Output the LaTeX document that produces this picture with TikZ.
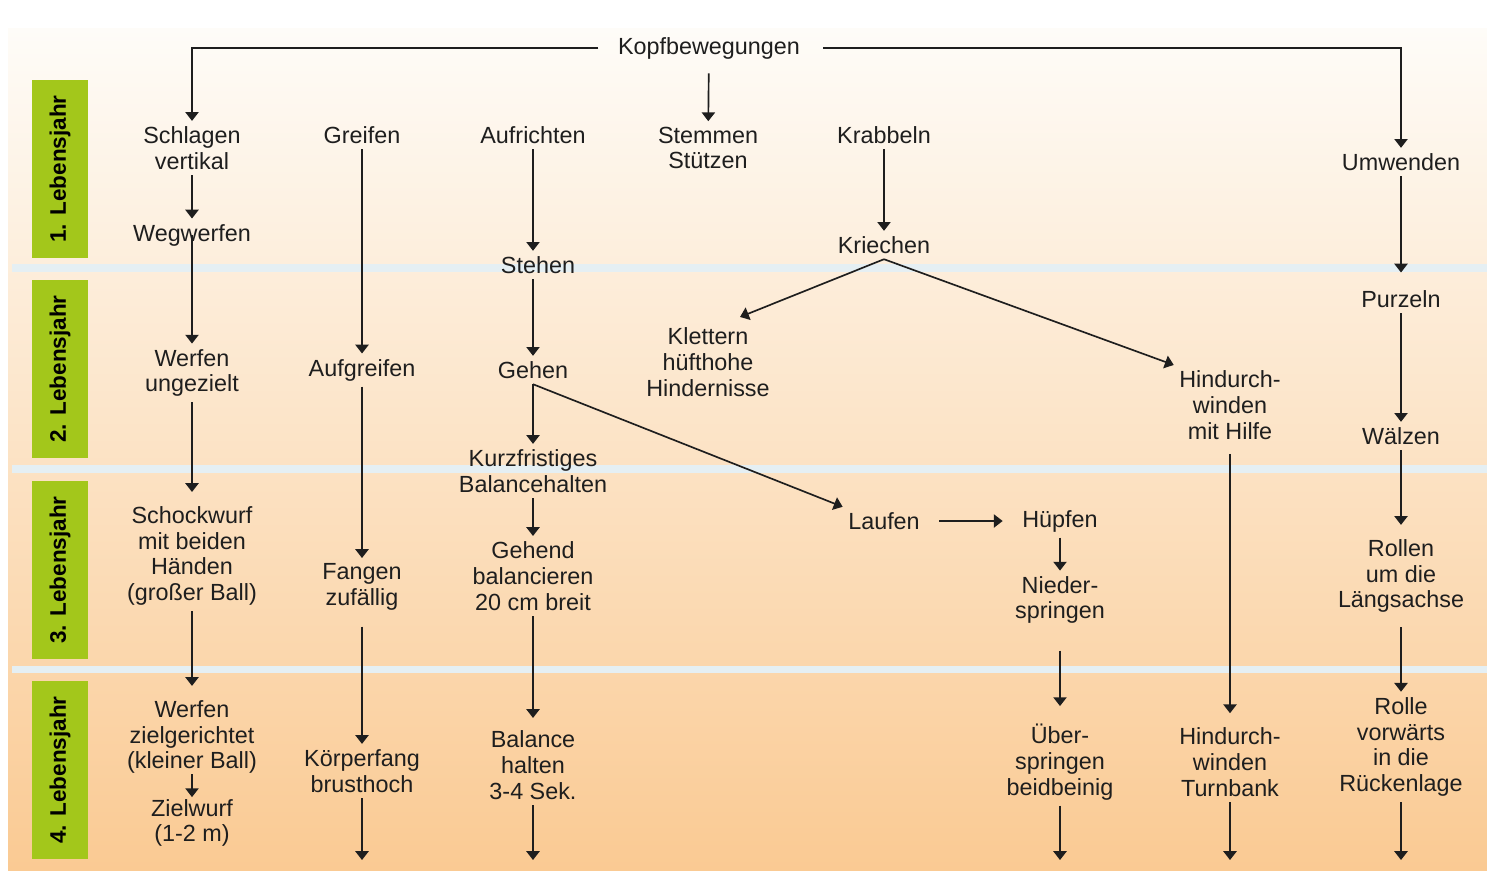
\documentclass[tikz,border=0pt]{standalone}
\usepackage{fontspec}
\setmainfont{Liberation Sans}
\usetikzlibrary{arrows.meta,calc}
\definecolor{yeargreen}{HTML}{A3C71B}
\definecolor{bgtop}{HTML}{FEFCF8}
\definecolor{bgmid}{HTML}{FDD9B2}
\definecolor{bgbot}{HTML}{FACA93}
\definecolor{sepline}{HTML}{E5EFF3}
\definecolor{txt}{HTML}{1E1E1E}

\begin{document}
\begin{tikzpicture}[x=0.02cm, y=-0.02cm,
	skill/.style={align=center, inner sep=3pt, text=txt, font=\fontsize{13.3}{14.7}\selectfont},
	yearlabel/.style={rotate=90, text=black, font=\fontsize{12.8}{14}\selectfont\bfseries},
	arr/.style={-{Triangle[length=5pt,width=7.5pt]}, line width=0.95pt, draw=txt}]
	\useasboundingbox (0,0) rectangle (1487,870);
	% background
	\fill[white] (0,0) rectangle (1487,870);
	\shade[top color=bgtop, middle color=bgmid, bottom color=bgbot] (8,28) rectangle (1487,870);
	% year separators
	\foreach \y in {268,469,669}
		\draw[sepline, line width=4pt] (12,\y) -- (1487,\y);
	% year labels
	\foreach \i/\y in {1/80,2/280,3/481,4/681} {
		\fill[yeargreen] (32,\y) rectangle (88,\y+178);
		\node[yearlabel] (year\i) at (60,\y+89) {\i. Lebensjahr};
	}

	% top
	\node[skill] (kopf) at (709,48) {Kopfbewegungen};

	% column 1: Schlagen / Werfen
	\node[skill] (schlagen) at (192,148) {Schlagen\\vertikal};
	\node[skill] (weg) at (192,235) {Wegwerfen};
	\node[skill] (werfenu) at (192,373) {Werfen\\ungezielt};
	\node[skill] (schock) at (192,556) {Schockwurf\\mit beiden\\Händen\\(großer Ball)};
	\node[skill] (werfenz) at (192,737) {Werfen\\zielgerichtet\\(kleiner Ball)};
	\node[skill] (zielwurf) at (192,823) {Zielwurf\\(1-2 m)};

	% column 2: Greifen
	\node[skill] (greifen) at (362,135) {Greifen};
	\node[skill] (aufgreifen) at (362,370) {Aufgreifen};
	\node[skill] (fangen) at (362,587) {Fangen\\zufällig};
	\node[skill] (koerper) at (362,771) {Körperfang\\brusthoch};
	\coordinate (end2) at (362,860);

	% column 3: Aufrichten
	\node[skill] (aufrichten) at (533,135) {Aufrichten};
	\node[skill] (stehen) at (538,265) {Stehen};
	\node[skill] (gehen) at (533,370) {Gehen};
	\node[skill] (kurz) at (533,471) {Kurzfristiges\\Balancehalten};
	\node[skill] (gehend) at (533,576) {Gehend\\balancieren\\20 cm breit};
	\node[skill] (balance) at (533,765) {Balance\\halten\\3-4 Sek.};
	\coordinate (end3) at (533,860);

	% column 4: Stemmen
	\node[skill] (stemmen) at (708,148) {Stemmen\\Stützen};
	\node[skill] (klettern) at (708,362) {Klettern\\hüfthohe\\Hindernisse};

	% column 5: Krabbeln
	\node[skill] (krabbeln) at (884,135) {Krabbeln};
	\node[skill] (kriechen) at (884,245) {Kriechen};
	\node[skill] (laufen) at (884,521) {Laufen};

	% column 6: Hüpfen
	\node[skill] (huepfen) at (1060,521) {Hüpfen};
	\node[skill] (nieder) at (1060,600) {Nieder-\\springen};
	\node[skill] (ueber) at (1060,762) {Über-\\springen\\beidbeinig};
	\coordinate (end6) at (1060,860);

	% column 7: Hindurchwinden
	\node[skill] (hilfe) at (1230,405) {Hindurch-\\winden\\mit Hilfe};
	\node[skill] (turnbank) at (1230,762) {Hindurch-\\winden\\Turnbank};
	\coordinate (end7) at (1230,860);

	% column 8: Umwenden
	\node[skill] (umwenden) at (1401,162) {Umwenden};
	\node[skill] (purzeln) at (1401,299) {Purzeln};
	\node[skill] (waelzen) at (1401,436) {Wälzen};
	\node[skill] (rollen) at (1401,576) {Rollen\\um die\\Längsachse};
	\node[skill] (rolle) at (1401,747) {Rolle\\vorwärts\\in die\\Rückenlage};
	\coordinate (end8) at (1401,860);

	% connectors
	\draw[arr, shorten <=8pt] (kopf.west) -| (schlagen.north);
	\draw[arr, shorten <=10pt] (kopf.east) -| (umwenden.north);
	\draw[arr, shorten <=5pt] (kopf) -- (stemmen);

	\draw[arr] (schlagen) -- (weg);
	\draw[arr] (weg.center) -- (werfenu);
	\draw[arr, shorten >=5pt] (werfenu) -- (schock);
	\draw[arr, shorten >=5pt] (schock) -- (werfenz);
	\draw[arr, shorten <=-3pt, shorten >=-2pt] (werfenz) -- (zielwurf);

	\draw[arr] (greifen) -- (aufgreifen);
	\draw[arr] (aufgreifen) -- (fangen);
	\draw[arr, shorten <=6pt] (fangen) -- (koerper);
	\draw[arr] (koerper) -- (end2);

	\draw[arr] (aufrichten) -- (aufrichten |- stehen.north);
	\draw[arr] (stehen.south -| gehen) -- (gehen);
	\draw[arr] (gehen) -- (kurz);
	\draw[arr] (gehen.south) -- (laufen.north west);
	\draw[arr] (kurz) -- (gehend);
	\draw[arr, shorten >=4pt] (gehend) -- (balance);
	\draw[arr] (balance) -- (end3);

	\draw[arr] (krabbeln) -- (kriechen);
	\draw[arr] (kriechen.south) -- ($(klettern.north)+(32,-5)$);
	\draw[arr] (kriechen.south) -- (hilfe.north west);
	\draw[arr, shorten <=8pt, shorten >=8pt] (laufen) -- (huepfen);

	\draw[arr] (huepfen) -- (nieder);
	\draw[arr, shorten <=12pt, shorten >=7pt] (nieder) -- (ueber);
	\draw[arr] (ueber) -- (end6);

	\draw[arr, shorten <=5pt, shorten >=5pt] (hilfe) -- (turnbank);
	\draw[arr] (turnbank) -- (end7);

	\draw[arr, shorten >=7pt] (umwenden) -- (purzeln);
	\draw[arr] (purzeln) -- (waelzen);
	\draw[arr, shorten >=5pt] (waelzen) -- (rollen);
	\draw[arr, shorten <=5pt] (rollen) -- (rolle);
	\draw[arr] (rolle) -- (end8);
\end{tikzpicture}
\end{document}
